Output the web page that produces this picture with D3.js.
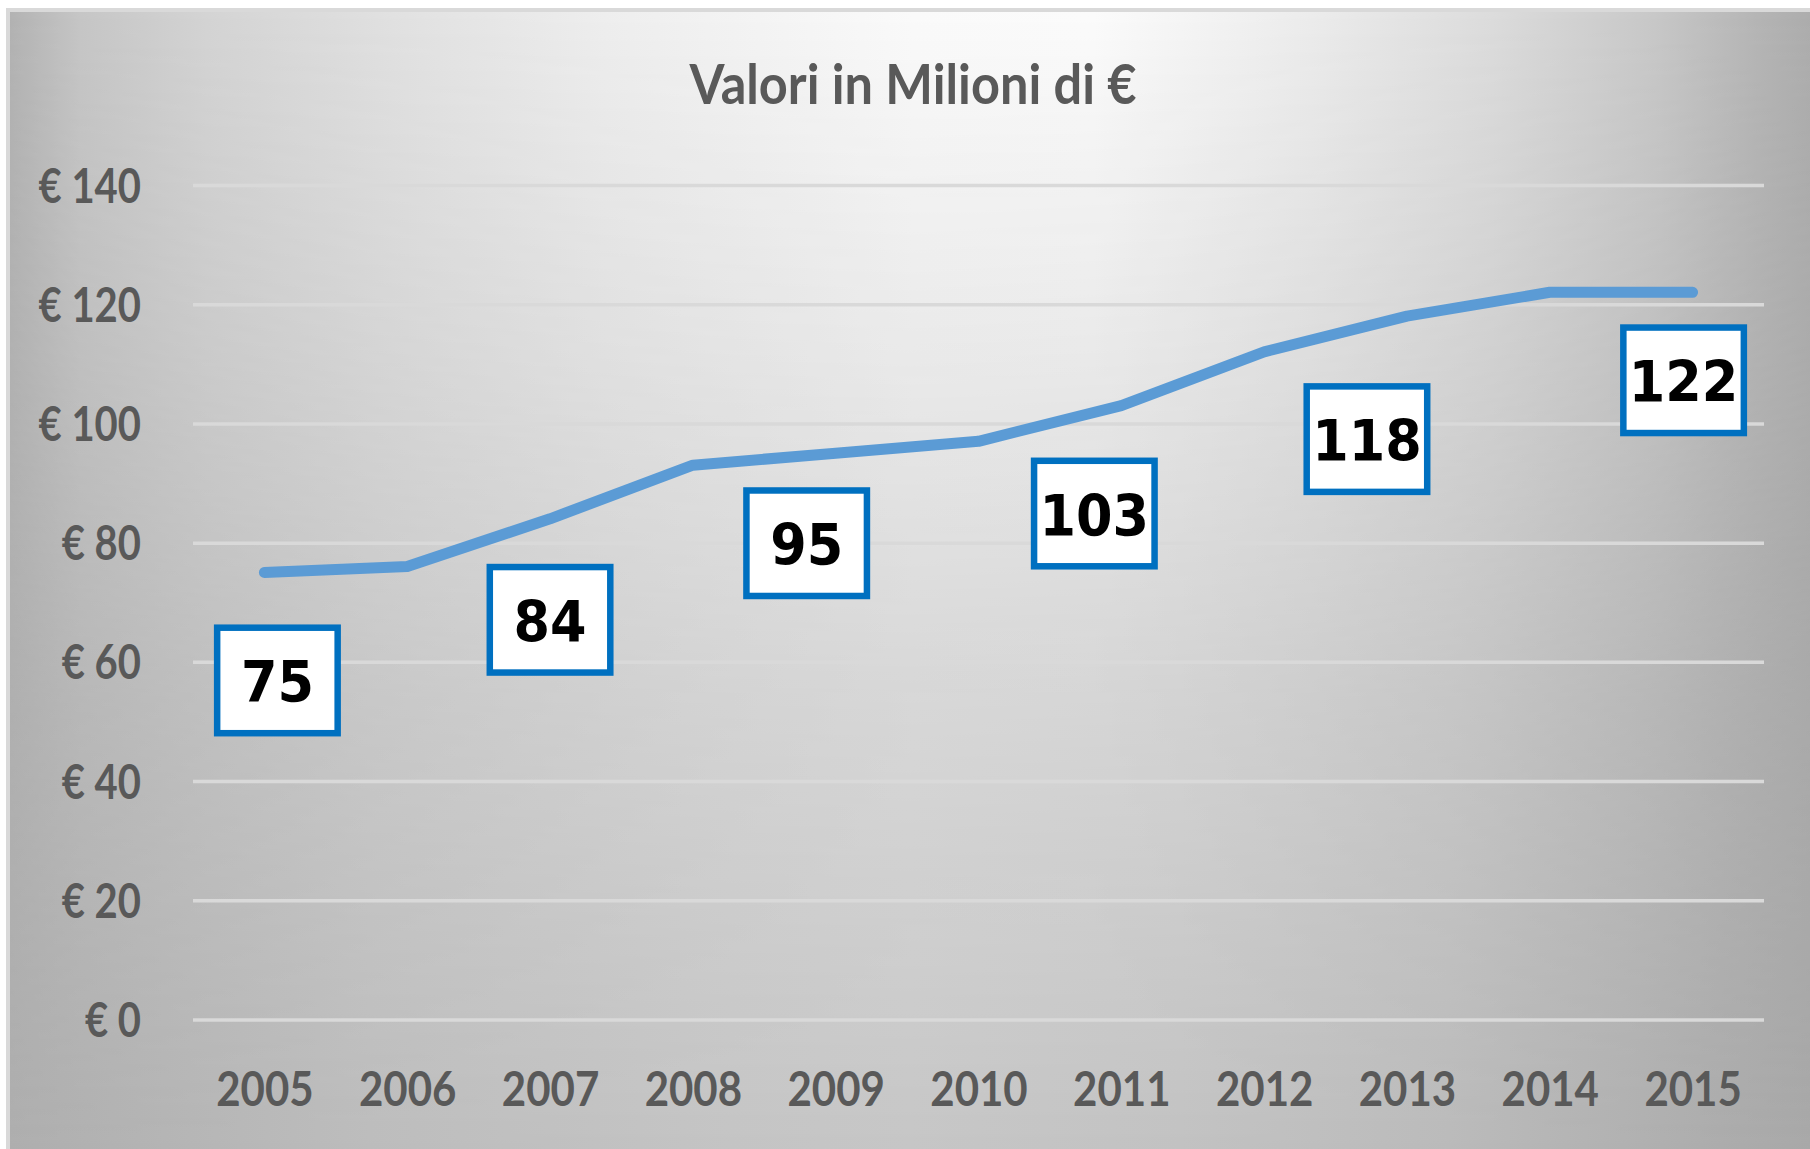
<!DOCTYPE html>
<html>
<head>
<meta charset="utf-8">
<script src="https://cdn.jsdelivr.net/npm/d3@7"></script>
<style>
  body { margin: 0; background: #fff; }
  text { font-family: Lato, "Open Sans", sans-serif; font-weight: 700; }
</style>
</head>
<body>
<svg id="chart"></svg>
<script>
const years = ["2005", "2006", "2007", "2008", "2009", "2010", "2011", "2012", "2013", "2014", "2015"];
const values = [75, 76, 84, 93, 95, 97, 103, 112, 118, 122, 122];
const yTicks = [0, 20, 40, 60, 80, 100, 120, 140];
const labelYears = ["2005", "2007", "2009", "2011", "2013", "2015"];
const labelValues = [75, 84, 95, 103, 118, 122];
const chartTitle = "Valori in Milioni di €";

// hand placed data labels (px from the line point), as in the original
const labelNudge = [[13, 108], [0, 101], [-29, 90], [-27, 108], [-40, 123], [-9, 88]];

const width = 1810, height = 1149;
const margin = {top: 185, right: 46, bottom: 129.5, left: 193};
const textColor = "#595959";

const svg = d3.select("#chart")
    .attr("width", width)
    .attr("height", height);

const defs = svg.append("defs");

// top row of the background: light in the middle, darker at the sides
const topGrad = defs.append("linearGradient").attr("id", "bgTop");
[[0, "#b2b2b2"], [0.04, "#c6c6c6"], [0.11, "#d4d4d4"], [0.22, "#e2e2e2"], [0.33, "#eeeeee"],
 [0.5, "#fafafa"], [0.6, "#fbfbfb"], [0.72, "#ececec"], [0.82, "#dcdcdc"], [0.91, "#c8c8c8"],
 [0.97, "#b4b4b4"], [1, "#acacac"]]
    .forEach(s => topGrad.append("stop").attr("offset", s[0]).attr("stop-color", s[1]));

// bottom row of the background
const botGrad = defs.append("linearGradient").attr("id", "bgBottom");
[[0, "#aeaeae"], [0.2, "#bcbcbc"], [0.4, "#c4c4c4"], [0.5, "#c6c6c6"], [0.65, "#c2c2c2"],
 [0.8, "#bababa"], [0.95, "#acacac"], [1, "#a8a8a8"]]
    .forEach(s => botGrad.append("stop").attr("offset", s[0]).attr("stop-color", s[1]));

// fade from top row to bottom row
const fade = defs.append("linearGradient").attr("id", "fade")
    .attr("x1", 0).attr("y1", 0).attr("x2", 0).attr("y2", 1);
[[0, "#000"], [0.3, "rgb(79,79,79)"], [0.6, "rgb(171,171,171)"], [1, "#fff"]]
    .forEach(s => fade.append("stop").attr("offset", s[0]).attr("stop-color", s[1]));
defs.append("mask").attr("id", "fadeMask")
    .append("rect")
    .attr("x", 10).attr("y", 12).attr("width", width - 10).attr("height", height - 12)
    .attr("fill", "url(#fade)");

svg.append("rect")
    .attr("x", 8).attr("y", 10)
    .attr("width", width).attr("height", height)
    .attr("fill", "url(#bgTop)")
    .attr("stroke", "#d9d9d9")
    .attr("stroke-width", 4);

svg.append("rect")
    .attr("x", 10).attr("y", 12)
    .attr("width", width - 10).attr("height", height - 12)
    .attr("fill", "url(#bgBottom)")
    .attr("mask", "url(#fadeMask)");

const x = d3.scalePoint()
    .domain(years)
    .range([margin.left, width - margin.right])
    .padding(0.5);

const y = d3.scaleLinear()
    .domain([0, 140])
    .range([height - margin.bottom, margin.top]);

// y axis with gridlines
const yAxis = svg.append("g")
    .attr("transform", `translate(${margin.left},0)`)
    .call(d3.axisLeft(y)
        .tickValues(yTicks)
        .tickSize(-(width - margin.left - margin.right))
        .tickPadding(52)
        .tickFormat(d => "€ " + d));
yAxis.select(".domain").remove();
yAxis.selectAll("line")
    .attr("stroke", "#d9d9d9")
    .attr("stroke-width", 3.5);
yAxis.selectAll("text")
    .attr("fill", textColor)
    .attr("font-size", 40)
    .attr("dy", "0.36em")
    .attr("transform", "scale(1,1.185)");

// x axis labels
const xAxis = svg.append("g")
    .attr("transform", "translate(0,1106)")
    .call(d3.axisBottom(x).tickSize(0));
xAxis.select(".domain").remove();
xAxis.selectAll("text")
    .attr("y", 0)
    .attr("dy", null)
    .attr("fill", textColor)
    .attr("font-size", 42)
    .attr("transform", "scale(1,1.13)");

// title
svg.append("g")
    .attr("transform", "translate(913,104) scale(1,1.08)")
    .append("text")
    .attr("text-anchor", "middle")
    .attr("fill", textColor)
    .attr("font-size", 50.5)
    .text(chartTitle);

// the line
const line = d3.line()
    .x((d, i) => x(years[i]))
    .y(d => y(d));

svg.append("path")
    .datum(values)
    .attr("d", line)
    .attr("fill", "none")
    .attr("stroke", "#5b9bd5")
    .attr("stroke-width", 11)
    .attr("stroke-linecap", "round")
    .attr("stroke-linejoin", "round");

// boxed data labels
const labels = svg.selectAll(".lbl")
    .data(labelValues)
    .enter().append("g")
    .attr("class", "lbl")
    .attr("transform", (d, i) =>
        `translate(${x(labelYears[i]) + labelNudge[i][0]},${y(d) + labelNudge[i][1]})`);

labels.append("rect")
    .attr("x", -60.25).attr("y", -52.75)
    .attr("width", 120.5).attr("height", 105.5)
    .attr("fill", "#fff")
    .attr("stroke", "#0070c0")
    .attr("stroke-width", 6.5);

labels.append("text")
    .attr("text-anchor", "middle")
    .attr("y", 20)
    .attr("transform", "scale(1,1.1)")
    .style("font-family", "'DejaVu Sans', Verdana, sans-serif")
    .attr("font-size", 52.5)
    .attr("fill", "#000")
    .text(d => d);
</script>
</body>
</html>
